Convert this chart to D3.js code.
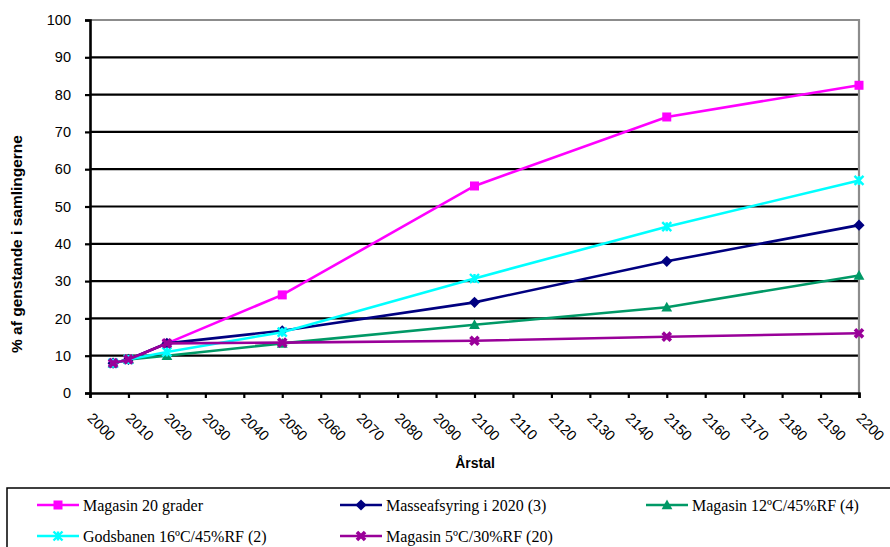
<!DOCTYPE html>
<html>
<head>
<meta charset="utf-8">
<script src="https://cdn.jsdelivr.net/npm/d3@7"></script>
<style>
  html, body { margin: 0; padding: 0; background: #fff; }
  svg { display: block; }
</style>
</head>
<body>
<svg id="chart" width="890" height="547"></svg>
<script>
// Years on the x axis (XY scatter)
const years = [2006, 2010, 2020, 2050, 2100, 2150, 2200];

// Share of objects in the collections (%) per scenario
const magasin20 = [8, 9, 13.3, 26.3, 55.5, 74, 82.5];
const masseafsyring = [8, 9, 13.3, 16.7, 24.3, 35.3, 45];
const magasin12 = [8, 9, 10, 13.3, 18.3, 23, 31.5];
const godsbanen = [8, 9, 11, 16.3, 30.7, 44.6, 57];
const magasin5 = [8, 9, 13.3, 13.5, 14, 15.1, 16];

const seriesNames = [
  "Magasin 20 grader",
  "Masseafsyring i 2020 (3)",
  "Magasin 12ºC/45%RF (4)",
  "Godsbanen 16ºC/45%RF (2)",
  "Magasin 5ºC/30%RF (20)"
];

const xTicks = d3.range(2000, 2201, 10);
const yTicks = d3.range(0, 101, 10);

const series = [
  { name: seriesNames[0], values: magasin20, color: "#ff00ff", marker: "square" },
  { name: seriesNames[1], values: masseafsyring, color: "#000080", marker: "diamond" },
  { name: seriesNames[2], values: magasin12, color: "#009966", marker: "triangle" },
  { name: seriesNames[3], values: godsbanen, color: "#00ffff", marker: "star" },
  { name: seriesNames[4], values: magasin5, color: "#990099", marker: "cross" }
];

const svg = d3.select("#chart");
const plot = { left: 90, right: 859, top: 20, bottom: 393 };

const x = d3.scaleLinear().domain([2000, 2200]).range([plot.left, plot.right]);
const y = d3.scaleLinear().domain([0, 100]).range([plot.bottom, plot.top]);

// Horizontal gridlines
svg.append("g")
  .selectAll("line")
  .data(yTicks.filter(d => d > 0 && d < 100))
  .join("line")
  .attr("x1", plot.left).attr("x2", plot.right)
  .attr("y1", d => y(d)).attr("y2", d => y(d))
  .attr("stroke", "#000").attr("stroke-width", 2.2);

// Grey plot border (top and right)
svg.append("path")
  .attr("d", `M${plot.left},${y(100)}H${plot.right}V${plot.bottom}`)
  .attr("fill", "none").attr("stroke", "#8c8c8c").attr("stroke-width", 2.2);

// Y axis
const yAxis = d3.axisLeft(y).tickValues(yTicks).tickSize(5).tickPadding(14).tickFormat(d3.format("d"));
const gy = svg.append("g").attr("transform", `translate(${plot.left},0)`).call(yAxis);
gy.select(".domain").attr("stroke", "#000").attr("stroke-width", 2.6);
gy.selectAll(".tick line").attr("stroke", "#000").attr("stroke-width", 2.2);
gy.selectAll(".tick text")
  .attr("font-family", "Liberation Sans, Arial, sans-serif")
  .attr("font-size", 14.5).attr("fill", "#000");

// X axis
const xAxis = d3.axisBottom(x).tickValues(xTicks).tickSize(5).tickFormat(d3.format("d"));
const gx = svg.append("g").attr("transform", `translate(0,${plot.bottom})`).call(xAxis);
gx.select(".domain").attr("stroke", "#000").attr("stroke-width", 2.6);
gx.selectAll(".tick line").attr("stroke", "#000").attr("stroke-width", 2.2);
gx.selectAll(".tick text")
  .attr("font-family", "Liberation Sans, Arial, sans-serif")
  .attr("font-size", 14.5).attr("fill", "#000")
  .attr("text-anchor", "start")
  .attr("dy", null)
  .attr("y", 0)
  .attr("transform", "translate(-4,26) rotate(45)");

// Axis titles
svg.append("text")
  .attr("transform", "translate(22,244) rotate(-90)")
  .attr("text-anchor", "middle")
  .attr("font-family", "Liberation Sans, Arial, sans-serif")
  .attr("font-size", 15.5).attr("font-weight", "bold")
  .text("% af genstande i samlingerne");

svg.append("text")
  .attr("x", 475).attr("y", 468)
  .attr("text-anchor", "middle")
  .attr("font-family", "Liberation Sans, Arial, sans-serif")
  .attr("font-size", 14).attr("font-weight", "bold")
  .text("Årstal");

// Marker shapes
function drawMarker(g, type, color, size) {
  const s = size;
  if (type === "square") {
    g.append("rect").attr("x", -s / 2).attr("y", -s / 2).attr("width", s).attr("height", s).attr("fill", color);
  } else if (type === "diamond") {
    const r = s * 0.62;
    g.append("path").attr("d", `M0,${-r}L${r},0L0,${r}L${-r},0Z`).attr("fill", color);
  } else if (type === "triangle") {
    const r = s * 0.6;
    g.append("path").attr("d", `M0,${-r}L${r},${r * 0.8}L${-r},${r * 0.8}Z`).attr("fill", color);
  } else if (type === "star") {
    const r = s * 0.5;
    g.append("path").attr("d", `M${-r},${-r}L${r},${r}M${r},${-r}L${-r},${r}M0,${-r}L0,${r}`)
      .attr("stroke", color).attr("stroke-width", 2.4).attr("fill", "none");
  } else if (type === "cross") {
    const r = s * 0.45;
    g.append("path").attr("d", `M${-r},${-r}L${r},${r}M${r},${-r}L${-r},${r}`)
      .attr("stroke", color).attr("stroke-width", 3.6).attr("fill", "none");
  }
}

const line = d3.line().x((d, i) => x(years[i])).y(d => y(d));

series.forEach(s => {
  const g = svg.append("g");
  g.append("path")
    .attr("d", line(s.values))
    .attr("fill", "none").attr("stroke", s.color).attr("stroke-width", 2.6);
  s.values.forEach((v, i) => {
    const m = g.append("g").attr("transform", `translate(${x(years[i])},${y(v)})`);
    drawMarker(m, s.marker, s.color, 9);
  });
});

// Legend
const legend = svg.append("g");
legend.append("rect")
  .attr("x", 7).attr("y", 488).attr("width", 900).attr("height", 80)
  .attr("fill", "#fff").attr("stroke", "#000").attr("stroke-width", 1.5);

const legendPos = [
  { x: 37, y: 505 }, { x: 340, y: 505 }, { x: 646, y: 505 },
  { x: 37, y: 536 }, { x: 340, y: 536 }
];

series.forEach((s, i) => {
  const p = legendPos[i];
  const g = legend.append("g").attr("transform", `translate(${p.x},${p.y})`);
  g.append("line").attr("x1", 0).attr("x2", 42).attr("y1", 0).attr("y2", 0)
    .attr("stroke", s.color).attr("stroke-width", 2.6);
  const m = g.append("g").attr("transform", "translate(21,0)");
  drawMarker(m, s.marker, s.color, 9);
  g.append("text")
    .attr("x", 46).attr("y", 5.5)
    .attr("font-family", "Liberation Serif, Times New Roman, serif")
    .attr("font-size", 16)
    .text(s.name);
});
</script>
</body>
</html>
